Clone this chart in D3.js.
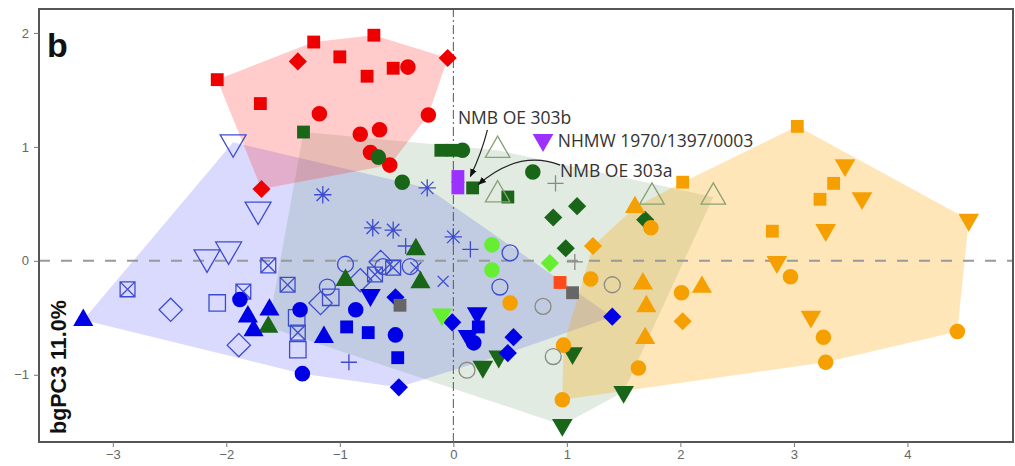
<!DOCTYPE html>
<html>
<head>
<meta charset="utf-8">
<script src="https://cdn.jsdelivr.net/npm/d3@7"></script>
<style>
  body { margin: 0; background: #fff; }
  svg { display: block; }
</style>
</head>
<body>
<svg id="chart" width="1015" height="466"></svg>
<script>
// bgPC1 (x) vs bgPC3 (y) scores: [x, y, shape]
var redPts = [
  [-2.08, 1.59, "sq"], [-1.70, 1.38, "sq"], [-1.23, 1.92, "sq"], [-1.00, 1.79, "sq"],
  [-0.70, 1.98, "sq"], [-0.76, 1.62, "sq"], [-0.53, 1.69, "sq"], [-0.40, 1.70, "ci"],
  [-1.37, 1.75, "di"], [-0.05, 1.78, "di"], [-1.69, 0.63, "di"], [-1.18, 1.29, "ci"],
  [-0.22, 1.28, "ci"], [-0.82, 1.11, "ci"], [-0.65, 1.15, "ci"], [-0.73, 0.95, "ci"],
  [-0.56, 0.84, "ci"]
];

var blueOpenPts = [
  [-1.94, 1.04, "td"], [-1.72, 0.45, "td"], [-2.17, 0.03, "td"], [-1.98, 0.10, "td"],
  [-2.87, -0.25, "bx"], [-1.63, -0.04, "bx"], [-1.46, -0.21, "bx"], [-1.85, -0.27, "bx"],
  [-1.37, -0.63, "bx"], [-0.53, -0.06, "bx"], [-0.69, -0.12, "bx"],
  [-2.49, -0.43, "di"], [-1.89, -0.74, "di"], [-1.17, -0.37, "di"], [-0.82, -0.17, "di"],
  [-0.64, -0.01, "di"],
  [-2.08, -0.37, "sq"], [-1.37, -0.78, "sq"], [-1.38, -0.50, "sq"], [-1.08, -0.32, "sq"],
  [-1.15, 0.58, "as"], [-0.23, 0.64, "as"], [-0.71, 0.29, "as"], [-0.53, 0.27, "as"],
  [0.00, 0.21, "as"],
  [-0.92, -0.89, "pl"], [0.15, 0.10, "pl"], [-0.42, 0.13, "pl"],
  [-0.09, -0.18, "ti"], [-0.33, -0.06, "ti"],
  [-0.62, -0.05, "ci"], [-0.38, -0.05, "ci"], [0.50, 0.07, "ci"], [0.41, -0.23, "ci"],
  [-1.11, -0.23, "ci"], [-0.95, -0.03, "ci"]
];

var bluePts = [
  [-3.26, -0.52, "tu"], [-1.88, -0.34, "ci"], [-1.81, -0.49, "tu"], [-1.76, -0.61, "tu"],
  [-1.62, -0.43, "tu"], [-1.35, -0.43, "ci"], [-1.33, -0.99, "ci"], [-1.14, -0.67, "tu"],
  [-0.94, -0.58, "sq"], [-0.86, -0.43, "ci"], [-0.73, -0.30, "td"], [-0.75, -0.63, "sq"],
  [-0.51, -0.65, "ci"], [-0.49, -0.85, "sq"], [-0.48, -1.11, "di"], [-0.51, -0.32, "di"],
  [-0.01, -0.54, "di"], [0.21, -0.46, "td"], [0.22, -0.58, "sq"], [0.18, -0.72, "ci"],
  [0.13, -0.66, "td"], [0.53, -0.67, "di"], [0.48, -0.81, "di"], [1.40, -0.49, "di"]
];

var greenPts = [
  [-1.32, 1.13, "sq"], [-0.11, 0.97, "sq"], [-0.01, 0.97, "sq"], [0.08, 0.97, "ci"],
  [-0.45, 0.69, "ci"], [0.70, 0.78, "ci"], [0.48, 0.56, "sq"], [0.17, 0.64, "sq"],
  [-0.66, 0.91, "ci"], [0.88, 0.38, "di"], [1.09, 0.48, "di"], [0.99, 0.11, "di"],
  [1.69, 0.36, "di"], [-0.33, 0.10, "tu"], [-0.29, -0.19, "tu"], [-0.95, -0.17, "tu"],
  [-1.63, -0.58, "tu"], [0.26, -0.93, "td"], [0.40, -0.84, "td"], [1.05, -0.81, "td"],
  [1.50, -1.15, "td"], [0.96, -1.44, "td"]
];

var lightGreenPts = [
  [0.39, 0.97, "tu"], [0.39, 0.58, "tu"], [1.75, 0.56, "tu"], [2.29, 0.56, "tu"]
];

var limePts = [
  [0.34, 0.14, "ci"], [0.34, -0.08, "ci"], [-0.10, -0.47, "td"], [0.85, -0.02, "di"]
];

var orangePts = [
  [3.03, 1.18, "sq"], [3.45, 0.84, "td"], [3.35, 0.68, "sq"], [3.23, 0.54, "sq"],
  [3.60, 0.55, "td"], [2.81, 0.26, "sq"], [3.28, 0.27, "td"], [4.54, 0.36, "td"],
  [2.02, 0.69, "sq"], [2.85, -0.01, "td"], [2.97, -0.14, "ci"], [2.19, -0.23, "tu"],
  [2.01, -0.28, "ci"], [2.02, -0.53, "di"], [3.15, -0.49, "td"], [3.26, -0.67, "ci"],
  [3.28, -0.89, "ci"], [4.44, -0.62, "ci"], [1.23, 0.13, "di"], [1.21, -0.16, "ci"],
  [1.67, -0.20, "tu"], [1.70, -0.40, "tu"], [1.69, -0.68, "tu"], [1.63, -0.94, "ci"],
  [0.97, -0.74, "ci"], [0.96, -1.22, "ci"], [1.60, 0.47, "tu"], [1.74, 0.29, "ci"]
];

var orangeExtraPts = [[0.50, -0.37, "ci"]];

var greyOpenPts = [
  [0.79, -0.40, "ci"], [1.40, -0.21, "ci"], [0.88, -0.84, "ci"], [0.12, -0.96, "ci"],
  [0.90, 0.68, "pl"], [1.07, -0.01, "pl"]
];
var greyPts = [[1.05, -0.28, "sq"], [-0.47, -0.39, "sq"]];
var redOrangePts = [[0.94, -0.19, "sq"]];

// NMB OE 303a / 303b and NHMW 1970/1397/0003
var purplePts = [[0.04, 0.74, "sq"], [0.04, 0.64, "sq"], [0.79, 1.06, "td"]];

var xTicks = [-3, -2, -1, 0, 1, 2, 3, 4];
var yTicks = [-1, 0, 1, 2];

var labels = [
  { text: "NMB OE 303b", x: 0.04, y: 1.20 },
  { text: "NHMW 1970/1397/0003", x: 0.92, y: 1.00 },
  { text: "NMB OE 303a", x: 0.94, y: 0.74 }
];

var svg = d3.select("#chart");
var W = 1015, H = 466;
var margin = { left: 39, right: 2, top: 9, bottom: 24 };

var x = d3.scaleLinear().domain([-3.65, 4.93]).range([margin.left, W - margin.right]);
var y = d3.scaleLinear().domain([-1.59, 2.21]).range([H - margin.bottom, margin.top]);

// custom symbols (R pch style)
var sqrt3 = Math.sqrt(3);
var symTriDown = {
  draw: function(ctx, size) {
    var yy = -Math.sqrt(size / (sqrt3 * 3));
    ctx.moveTo(0, -yy * 2);
    ctx.lineTo(sqrt3 * yy, yy);
    ctx.lineTo(-sqrt3 * yy, yy);
    ctx.closePath();
  }
};
var symDiamond = {
  draw: function(ctx, size) {
    var r = Math.sqrt(size / 2);
    ctx.moveTo(0, -r); ctx.lineTo(r, 0); ctx.lineTo(0, r); ctx.lineTo(-r, 0);
    ctx.closePath();
  }
};
var symPlus = {
  draw: function(ctx, size) {
    var r = Math.sqrt(size) / 2;
    ctx.moveTo(-r, 0); ctx.lineTo(r, 0);
    ctx.moveTo(0, -r); ctx.lineTo(0, r);
  }
};
var symTimes = {
  draw: function(ctx, size) {
    var r = Math.sqrt(size) / 2 * 0.72;
    ctx.moveTo(-r, -r); ctx.lineTo(r, r);
    ctx.moveTo(-r, r); ctx.lineTo(r, -r);
  }
};
var symStar = {
  draw: function(ctx, size) {
    symPlus.draw(ctx, size);
    symTimes.draw(ctx, size);
  }
};
var symBoxX = {
  draw: function(ctx, size) {
    var r = Math.sqrt(size) / 2;
    ctx.moveTo(-r, -r); ctx.lineTo(r, -r); ctx.lineTo(r, r); ctx.lineTo(-r, r);
    ctx.closePath();
    ctx.moveTo(-r, -r); ctx.lineTo(r, r);
    ctx.moveTo(-r, r); ctx.lineTo(r, -r);
  }
};

var shapes = {
  sq: d3.symbolSquare, ci: d3.symbolCircle, tu: d3.symbolTriangle,
  td: symTriDown, di: symDiamond, pl: symPlus, ti: symTimes, as: symStar, bx: symBoxX
};
var filledSize = { sq: 165, ci: 190, tu: 175, td: 185, di: 165 };
var openSize = { sq: 270, ci: 200, tu: 260, td: 290, di: 270, pl: 260, ti: 230, as: 300, bx: 220 };

// groups: hull fill
var groups = [
  { pts: bluePts.concat(blueOpenPts), hull: "#1a1aff", op: 0.16 },
  { pts: greenPts.concat(lightGreenPts, limePts), hull: "#2a6e2a", op: 0.14 },
  { pts: redPts, hull: "#ff2020", op: 0.23 },
  { pts: orangePts, hull: "#ffa500", op: 0.28 }
];

var series = [
  { pts: redPts, color: "#ee0000", filled: true },
  { pts: blueOpenPts, color: "#3d4ccf", filled: false },
  { pts: greenPts, color: "#196619", filled: true },
  { pts: lightGreenPts, color: "#86a276", filled: false },
  { pts: orangePts, color: "#f5a000", filled: true },
  { pts: orangeExtraPts, color: "#f5a000", filled: true },
  { pts: bluePts, color: "#0000e6", filled: true },
  { pts: greyOpenPts, color: "#8a8a80", filled: false },
  { pts: greyPts, color: "#666666", filled: true },
  { pts: redOrangePts, color: "#ff4a1c", filled: true },
  { pts: limePts, color: "#66ee33", filled: true },
  { pts: purplePts, color: "#9b30ff", filled: true }
];

// convex hulls
svg.append("g").attr("class", "hulls")
  .selectAll("path")
  .data(groups)
  .join("path")
  .attr("d", function(g) {
    var hull = d3.polygonHull(g.pts.map(function(p) { return [x(p[0]), y(p[1])]; }));
    return "M" + hull.join("L") + "Z";
  })
  .attr("fill", function(g) { return g.hull; })
  .attr("fill-opacity", function(g) { return g.op; })
  .attr("stroke", "none");

// zero lines
svg.append("line")
  .attr("x1", x.range()[0]).attr("x2", x.range()[1])
  .attr("y1", y(0)).attr("y2", y(0))
  .attr("stroke", "#999").attr("stroke-width", 2)
  .attr("stroke-dasharray", "11,11");
svg.append("line")
  .attr("x1", x(0)).attr("x2", x(0))
  .attr("y1", y.range()[0]).attr("y2", y.range()[1])
  .attr("stroke", "#555").attr("stroke-width", 1)
  .attr("stroke-dasharray", "9,3,2,3");

// points
var pts = svg.append("g").attr("class", "points");
series.forEach(function(s) {
  pts.append("g")
    .selectAll("path")
    .data(s.pts)
    .join("path")
    .attr("transform", function(d) { return "translate(" + x(d[0]) + "," + y(d[1]) + ")"; })
    .attr("d", function(d) {
      var sz = s.filled ? filledSize[d[2]] : openSize[d[2]];
      return d3.symbol().type(shapes[d[2]]).size(sz)();
    })
    .attr("fill", s.filled ? s.color : "none")
    .attr("stroke", s.filled ? "none" : s.color)
    .attr("stroke-width", 1.3);
});

// annotation arrows
var defs = svg.append("defs");
defs.append("marker")
  .attr("id", "arr")
  .attr("viewBox", "0 0 10 10")
  .attr("refX", 9).attr("refY", 5)
  .attr("markerWidth", 7).attr("markerHeight", 7)
  .attr("orient", "auto")
  .append("path").attr("d", "M0,1L10,5L0,9Z").attr("fill", "#111");

var arrows = [
  [[0.30, 1.15], [0.25, 0.95], [0.15, 0.74]],
  [[0.94, 0.84], [0.58, 0.98], [0.22, 0.67]]
];
arrows.forEach(function(a) {
  var p = d3.path();
  p.moveTo(x(a[0][0]), y(a[0][1]));
  p.quadraticCurveTo(x(a[1][0]), y(a[1][1]), x(a[2][0]), y(a[2][1]));
  svg.append("path")
    .attr("d", p.toString())
    .attr("fill", "none")
    .attr("stroke", "#222")
    .attr("stroke-width", 1.2)
    .attr("marker-end", "url(#arr)");
});

svg.append("g").selectAll("text")
  .data(labels)
  .join("text")
  .attr("x", function(d) { return x(d.x); })
  .attr("y", function(d) { return y(d.y); })
  .attr("font-family", "Open Sans, sans-serif")
  .attr("font-size", 17.5)
  .attr("fill", "#333")
  .text(function(d) { return d.text; });

// frame
svg.append("rect")
  .attr("x", x.range()[0]).attr("y", y.range()[1])
  .attr("width", x.range()[1] - x.range()[0])
  .attr("height", y.range()[0] - y.range()[1])
  .attr("fill", "none")
  .attr("stroke", "#555").attr("stroke-width", 2);

// axes
var xAxis = svg.append("g")
  .attr("transform", "translate(0," + y.range()[0] + ")")
  .call(d3.axisBottom(x).tickValues(xTicks).tickSize(5).tickSizeOuter(0).tickFormat(d3.format("d")));
var yAxis = svg.append("g")
  .attr("transform", "translate(" + x.range()[0] + ",0)")
  .call(d3.axisLeft(y).tickValues(yTicks).tickSize(5).tickSizeOuter(0).tickFormat(d3.format("d")));
[xAxis, yAxis].forEach(function(ax) {
  ax.select(".domain").remove();
  ax.selectAll("line").attr("stroke", "#777");
  ax.selectAll("text")
    .attr("font-family", "Liberation Sans, Arial, sans-serif")
    .attr("font-size", 13)
    .attr("fill", "#666");
});
yAxis.selectAll("text").attr("dx", "-2");

// panel letter and axis title
svg.append("text")
  .attr("x", 47).attr("y", 57)
  .attr("font-family", "Liberation Sans, Arial, sans-serif")
  .attr("font-weight", "bold")
  .attr("font-size", 34)
  .attr("fill", "#111")
  .text("b");

svg.append("text")
  .attr("transform", "translate(66,434) rotate(-90)")
  .attr("font-family", "Liberation Sans, Arial, sans-serif")
  .attr("font-weight", "bold")
  .attr("font-size", 21.5)
  .attr("fill", "#111")
  .text("bgPC3 11.0%");
</script>
</body>
</html>
